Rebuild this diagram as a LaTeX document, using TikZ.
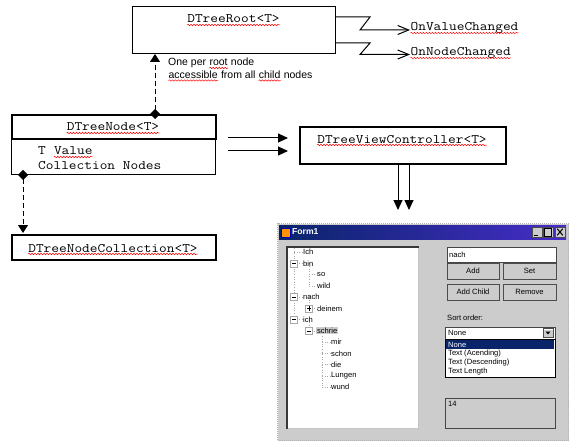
\documentclass[tikz,border=0pt]{standalone}
\usepackage{fontspec}
\usetikzlibrary{arrows.meta,decorations.pathmorphing}
\newfontfamily\umlfont{Latin Modern Mono}[FakeStretch=1.15]
\newfontfamily\notefont{Liberation Sans}
\newcommand\umltext{\umlfont\fontsize{13pt}{15pt}\selectfont}
\newcommand\notetext{\notefont\fontsize{10.5pt}{12.5pt}\selectfont}
\newcommand\uifont{\notefont\fontsize{7.6pt}{9pt}\selectfont}
\definecolor{winbg}{RGB}{204,204,204}
\definecolor{selblue}{RGB}{10,36,106}
\definecolor{barend}{RGB}{70,45,200}
\tikzset{squig/.style={red,line width=0.5pt,decorate,decoration={snake,amplitude=0.7pt,segment length=3pt}}}
\newcommand\sq[1]{\tikz[baseline=(w.base)]{\node[inner sep=0pt,anchor=base] (w) at (0,0) {#1}; \draw[squig] ([yshift=-2pt]w.base west) -- ([yshift=-2pt]w.base east);}}
\begin{document}
\begin{tikzpicture}[x=1pt,y=-1pt,
    box/.style={draw,line width=1pt,inner sep=0pt,anchor=north west},
    thickbox/.style={box,line width=2pt},
    mono/.style={inner sep=0pt,anchor=base,font=\umltext},
    note/.style={inner sep=0pt,anchor=base west,font=\notetext},
    dep/.style={dash pattern=on 5pt off 3pt,line width=1pt,{Diamond[length=10pt,width=10pt]}-{Triangle[length=8pt,width=10pt]}},
    uses/.style={line width=1pt,-{Triangle[length=10pt,width=9pt]}},
    event/.style={line width=1pt,-{Straight Barb[length=11pt,width=9pt]}},
    item/.style={inner sep=0pt,anchor=west,font=\uifont},
    branch/.style={gray!70,dotted,line width=0.6pt},
    exp/.style={draw=gray!70,fill=white,minimum size=7pt,inner sep=0pt,
      path picture={\draw[black,line width=0.6pt] ([xshift=1.5pt]path picture bounding box.west) -- ([xshift=-1.5pt]path picture bounding box.east);}},
    expplus/.style={exp,
      append after command={[black,line width=0.6pt] ([yshift=1.5pt]\tikzlastnode.south) edge ([yshift=-1.5pt]\tikzlastnode.north)}},
    field/.style={box,fill=white,draw=gray!55!black,line width=1pt},
    btn/.style={fill=winbg,draw=black!70,line width=1pt,inner sep=0pt,minimum height=16pt,font=\uifont,
      path picture={\draw[white,line width=2pt] (path picture bounding box.south west) -- (path picture bounding box.north west) -- (path picture bounding box.north east);}},
    capbtn/.style={btn,minimum width=10pt,minimum height=10pt,line width=0.6pt}]
  \useasboundingbox (0,0) rectangle (574,444);

  \node[box,minimum width=203pt,minimum height=47pt] (R) at (132,6) {};%
  \node[mono] (Rt) at (233.5,23) {\sq{DTreeRoot<T>}};%

  \node[mono,anchor=base west] (OV) at (410,31) {\sq{OnValueChanged}};%
  \node[mono,anchor=base west] (ON) at (410,56) {\sq{OnNodeChanged}};%
  \coordinate (R1) at (335,17);%
  \coordinate (R2) at (335,43);%
  \draw[event] (R1) -- (370,17) -- (360,30) -- ([yshift=1pt]OV.base west);%
  \draw[event] (R2) -- (370,43) -- (360,54.5) -- ([yshift=1.5pt]ON.base west);%

  \node[note] (Nt1) at (168,66) {One per \sq{root} node};%
  \node[note] (Nt2) at (168,78.5) {\sq{accessible} from all \sq{child} nodes};%

  \node[box,minimum width=204pt,minimum height=36pt] (Nb) at (11,138) {};%
  \node[thickbox,minimum width=204pt,minimum height=24pt] (N) at (11,114) {};%
  \node[mono] (Nt) at (113,131) {\sq{DTreeNode<T>}};%
  \node[mono,anchor=base west] (Nv) at (38,155) {T \sq{Value}};%
  \node[mono,anchor=base west] (Nc) at (38,170) {Collection Nodes};%

  \coordinate (NTop) at (155,119);%
  \coordinate (RBot) at (155,54);%
  \draw[dep] (NTop) -- (RBot);%

  \node[thickbox,minimum width=204pt,minimum height=25pt] (C) at (11,234) {};%
  \node[mono] (Ct) at (113,252) {\sq{DTreeNodeCollection<T>}};%
  \coordinate (NDia) at (23,170);%
  \coordinate (CTop) at (23,233);%
  \draw[dep] (NDia) -- (CTop);%

  \node[thickbox,minimum width=206pt,minimum height=37pt] (V) at (299,126) {};%
  \node[mono] (Vt) at (402,143) {\sq{DTreeViewController<T>}};%
  \coordinate (N1) at (228,138);%
  \coordinate (N2) at (228,151);%
  \coordinate (V1) at (288,138);%
  \coordinate (V2) at (288,151);%
  \draw[uses] (N1) -- (V1);%
  \draw[uses] (N2) -- (V2);%
  \coordinate (Vb1) at (398,163);%
  \coordinate (Vb2) at (409,163);%
  \coordinate (F1) at (398,210);%
  \coordinate (F2) at (409,210);%
  \draw[uses] (Vb1) -- (F1);%
  \draw[uses] (Vb2) -- (F2);%

  \node[box,fill=winbg,draw=gray!60,densely dotted,minimum width=291pt,minimum height=217pt] (F) at (277,223) {};%
  \node[anchor=north west,inner sep=0pt,minimum width=287pt,minimum height=14pt,left color=selblue,right color=barend] (Fbar) at (279,225) {};%
  \node[anchor=north west,inner sep=0pt,minimum size=9pt,fill=orange!85!yellow,draw=blue!70!black,line width=0.6pt] (Fi) at (281,227.5) {};%
  \node[item,text=white,font=\notefont\fontsize{8.6pt}{10pt}\selectfont\bfseries] (Ft) at (292,232) {Form1};%
  \node[capbtn] (Bmin) at (537,232) {};%
  \node[capbtn] (Bmax) at (548,232) {};%
  \node[capbtn] (Bx) at (560,232) {};%
  \draw[line width=1pt] ([shift={(2pt,2pt)}]Bmin.south west) -- ([shift={(-4pt,2pt)}]Bmin.south east);%
  \draw[line width=0.6pt] ([shift={(2pt,1.5pt)}]Bmax.south west) rectangle ([shift={(-2pt,-1.5pt)}]Bmax.north east);%
  \draw[line width=1pt] ([shift={(2.5pt,2pt)}]Bx.south west) -- ([shift={(-2.5pt,-2pt)}]Bx.north east);%
  \draw[line width=1pt] ([shift={(2.5pt,-2pt)}]Bx.north west) -- ([shift={(-2.5pt,2pt)}]Bx.south east);%

  \node[box,fill=white,draw=gray!50,densely dotted,line width=0.6pt,minimum width=131pt,minimum height=181pt] (TV) at (287,247) {};%
  \draw[gray!45!black,line width=1.5pt] (TV.south west) -- (TV.north west) -- (TV.north east);%

  \draw[branch] (294,248) -- (294,319.5);%
  \draw[branch] (309,263.3) -- (309,285.8);%
  \draw[branch] (309,297) -- (309,308.3);%
  \draw[branch] (309,319.5) -- (309,330.8);%
  \draw[branch] (322,330.8) -- (322,387);%

  \node[item] (Ich) at (303,252) {Ich};%
  \node[item] (bin) at (303,263.3) {bin};%
  \node[item] (so) at (317,274.5) {so};%
  \node[item] (wild) at (317,285.8) {wild};%
  \node[item] (nach) at (303,297) {nach};%
  \node[item] (deinem) at (317,308.3) {deinem};%
  \node[item] (ich) at (303,319.5) {ich};%
  \node[item,fill=gray!40,inner sep=0.8pt] (schrie) at (316,330.8) {schrie};%
  \node[item] (mir) at (331,342) {mir};%
  \node[item] (schon) at (331,353.3) {schon};%
  \node[item] (die) at (331,364.5) {die};%
  \node[item] (Lungen) at (331,375.8) {Lungen};%
  \node[item] (wund) at (331,387) {wund};%

  \draw[branch] (294,252) -- (Ich.west);%
  \draw[branch] (294,263.3) -- (bin.west);%
  \draw[branch] (309,274.5) -- (so.west);%
  \draw[branch] (309,285.8) -- (wild.west);%
  \draw[branch] (294,297) -- (nach.west);%
  \draw[branch] (309,308.3) -- (deinem.west);%
  \draw[branch] (294,319.5) -- (ich.west);%
  \draw[branch] (309,330.8) -- (schrie.west);%
  \draw[branch] (322,342) -- (mir.west);%
  \draw[branch] (322,353.3) -- (schon.west);%
  \draw[branch] (322,364.5) -- (die.west);%
  \draw[branch] (322,375.8) -- (Lungen.west);%
  \draw[branch] (322,387) -- (wund.west);%

  \node[exp] (Xbin) at (294,263.3) {};%
  \node[exp] (Xnach) at (294,297) {};%
  \node[expplus] (Xdeinem) at (309,308.3) {};%
  \node[exp] (Xich) at (294,319.5) {};%
  \node[exp] (Xschrie) at (309,330.8) {};%

  \node[field,minimum width=109pt,minimum height=15pt] (Tb) at (447,247) {};%
  \node[item] (Tbt) at (449,255) {nach};%
  \node[btn,minimum width=52pt] (Add) at (473,271) {Add};%
  \node[btn,minimum width=53pt] (Set) at (529.5,271) {Set};%
  \node[btn,minimum width=52pt] (AddChild) at (473,292) {Add Child};%
  \node[btn,minimum width=53pt] (Remove) at (529.5,292) {Remove};%

  \node[item] (Sort) at (447,318) {Sort order:};%
  \node[field,minimum width=110pt,minimum height=12pt] (Cb) at (445,327) {};%
  \node[item] (Cbt) at (448,333) {None};%
  \node[capbtn,minimum height=9pt] (Cbb) at (548,333) {};%
  \fill (545.5,331.5) -- (550.5,331.5) -- (548,334.5) -- cycle;%
  \node[box,fill=white,line width=0.8pt,minimum width=110pt,minimum height=38pt] (Lst) at (445,339) {};%
  \node[anchor=north west,inner sep=0pt,fill=selblue,minimum width=108pt,minimum height=9pt] (Sel) at (446,340) {};%
  \node[item,text=white] (L1) at (448,344.5) {None};%
  \node[item] (L2) at (448,353.5) {Text (Acending)};%
  \node[item] (L3) at (448,362.5) {Text (Descending)};%
  \node[item] (L4) at (448,371.5) {Text Length};%

  \node[field,fill=winbg,minimum width=110pt,minimum height=30pt] (Out) at (445,398) {};%
  \node[item] (Outt) at (448,404) {14};%
\end{tikzpicture}
\end{document}
